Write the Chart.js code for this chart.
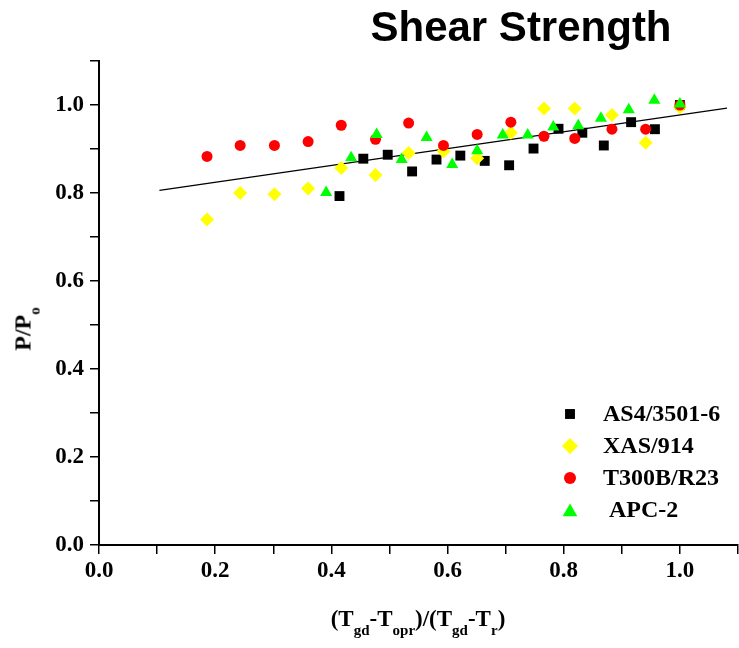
<!DOCTYPE html>
<html>
<head>
<meta charset="utf-8">
<script src="https://cdn.jsdelivr.net/npm/chart.js@4/dist/chart.umd.min.js"></script>
<style>
  html, body { margin: 0; padding: 0; background: #fff; }
  #wrap { position: relative; width: 739px; height: 648px; overflow: hidden; }
  #c { position: absolute; left: 0; top: 0; }
  .t { position: absolute; white-space: nowrap; color: #000; font-weight: bold; }
  #title { left: 521px; top: 6px; transform: translateX(-50%); font-family: "Liberation Sans", Arial, sans-serif; font-size: 42px; line-height: 42px; }
  #xt { left: 418px; top: 607px; transform: translateX(-50%); font-family: "Liberation Serif", "Times New Roman", serif; font-size: 23px; line-height: 23px; }
  #yt { left: 24px; top: 329px; transform: translate(-50%, -50%) rotate(-90deg); font-family: "Liberation Serif", "Times New Roman", serif; font-size: 24px; line-height: 24px; }
  .sb { font-size: 15px; position: relative; top: 9px; }
</style>
</head>
<body>
<div id="wrap">
  <canvas id="c" width="739" height="648"></canvas>
  <div class="t" id="title">Shear Strength</div>
  <div class="t" id="xt">(T<span class="sb">gd</span>-T<span class="sb">opr</span>)/(T<span class="sb">gd</span>-T<span class="sb">r</span>)</div>
  <div class="t" id="yt">P/P<span class="sb">o</span></div>
</div>
<script>
// ---- data ----
const seriesNames = ["AS4/3501-6", "XAS/914", "T300B/R23", " APC-2"];

const as4X = [0.414, 0.455, 0.497, 0.539, 0.581, 0.622, 0.664, 0.706, 0.748, 0.791, 0.832, 0.869, 0.916, 0.957, 1.0];
const as4Y = [0.793, 0.878, 0.887, 0.849, 0.876, 0.885, 0.873, 0.863, 0.901, 0.946, 0.937, 0.908, 0.961, 0.945, 1.0];

const xasX = [0.186, 0.243, 0.302, 0.360, 0.417, 0.476, 0.533, 0.593, 0.651, 0.709, 0.766, 0.819, 0.883, 0.941, 1.0];
const xasY = [0.740, 0.800, 0.797, 0.810, 0.857, 0.841, 0.891, 0.895, 0.879, 0.937, 0.992, 0.992, 0.977, 0.914, 0.995];

const t300X = [0.186, 0.243, 0.302, 0.360, 0.417, 0.476, 0.533, 0.593, 0.651, 0.709, 0.766, 0.819, 0.883, 0.941, 1.0];
const t300Y = [0.883, 0.908, 0.908, 0.917, 0.954, 0.922, 0.959, 0.908, 0.933, 0.961, 0.929, 0.924, 0.945, 0.945, 1.0];

const apcX = [0.391, 0.434, 0.478, 0.521, 0.564, 0.608, 0.651, 0.695, 0.738, 0.782, 0.825, 0.864, 0.912, 0.956, 1.0];
const apcY = [0.801, 0.880, 0.933, 0.876, 0.926, 0.865, 0.896, 0.932, 0.932, 0.950, 0.953, 0.970, 0.989, 1.011, 1.002];

const fitX = [0.104, 1.081];
const fitY = [0.806, 0.993];

const axisMin = 0.0;
const axisMax = 1.1;
const tickStep = 0.1;

// ---- build chart ----
function pts(xs, ys) { return xs.map((x, i) => ({ x: x, y: ys[i] })); }

const markerDefs = [
  { style: 'rect', color: '#000000', radius: 7, order: 4 },
  { style: 'rectRot', color: '#FFFF00', radius: 7, order: 3 },
  { style: 'circle', color: '#FF0000', radius: 5.5, order: 2 },
  { style: 'triangle', color: '#00FF00', radius: 7, order: 1 }
];
const seriesData = [pts(as4X, as4Y), pts(xasX, xasY), pts(t300X, t300Y), pts(apcX, apcY)];

const datasets = seriesData.map((d, i) => ({
  label: seriesNames[i],
  data: d,
  pointStyle: markerDefs[i].style,
  pointRadius: markerDefs[i].radius,
  pointHoverRadius: markerDefs[i].radius,
  backgroundColor: markerDefs[i].color,
  borderColor: markerDefs[i].color,
  borderWidth: 0,
  showLine: false,
  order: markerDefs[i].order
}));
datasets.push({
  label: 'fit',
  data: pts(fitX, fitY),
  showLine: true,
  borderColor: '#000',
  borderWidth: 1.3,
  pointRadius: 0,
  fill: false,
  order: 10
});

function drawMarker(ctx, style, x, y, r, color) {
  ctx.save();
  ctx.fillStyle = color;
  ctx.beginPath();
  if (style === 'rect') {
    const s = r * Math.SQRT1_2;
    ctx.rect(x - s, y - s, 2 * s, 2 * s);
  } else if (style === 'rectRot') {
    ctx.moveTo(x, y - r); ctx.lineTo(x + r, y); ctx.lineTo(x, y + r); ctx.lineTo(x - r, y); ctx.closePath();
  } else if (style === 'circle') {
    ctx.arc(x, y, r, 0, Math.PI * 2);
  } else if (style === 'triangle') {
    ctx.moveTo(x, y - r);
    ctx.lineTo(x + r * Math.sin(Math.PI * 2 / 3), y - r * Math.cos(Math.PI * 2 / 3));
    ctx.lineTo(x + r * Math.sin(Math.PI * 4 / 3), y - r * Math.cos(Math.PI * 4 / 3));
    ctx.closePath();
  }
  ctx.fill();
  ctx.restore();
}

const legendPlugin = {
  id: 'innerLegend',
  afterDraw(chart) {
    const ctx = chart.ctx;
    const rows = [414, 446, 478, 510];
    const legendSizes = [7, 8, 6, 8.5];
    ctx.save();
    ctx.font = 'bold 24px "Liberation Serif", "Times New Roman", serif';
    ctx.textBaseline = 'middle';
    ctx.fillStyle = '#000';
    for (let i = 0; i < 4; i++) {
      drawMarker(ctx, markerDefs[i].style, 570, rows[i] + (markerDefs[i].style === 'triangle' ? 2 : 0), legendSizes[i], markerDefs[i].color);
      ctx.fillText(chart.data.datasets[i].label, 603, rows[i] + 1);
    }
    ctx.restore();
  }
};

function tickLabel(v) {
  const r = Math.round(v * 10);
  return r % 2 === 0 ? (r / 10).toFixed(1) : '';
}

const tickFont = { family: '"Liberation Serif", "Times New Roman", serif', size: 23, weight: 'bold' };

new Chart(document.getElementById('c'), {
  type: 'scatter',
  data: { datasets: datasets },
  options: {
    responsive: false,
    animation: false,
    events: [],
    layout: { autoPadding: false, padding: { top: 61, right: 1, left: 0, bottom: 0 } },
    plugins: { legend: { display: false }, tooltip: { enabled: false }, title: { display: false } },
    scales: {
      x: {
        type: 'linear', min: axisMin, max: axisMax,
        ticks: { stepSize: tickStep, callback: tickLabel, color: '#000', font: tickFont, padding: 3, maxRotation: 0, autoSkip: false },
        grid: { display: true, drawOnChartArea: false, drawTicks: true, tickLength: 9, color: '#000', lineWidth: 1.5 },
        border: { display: true, color: '#000', width: 2 },
        afterFit(s) { s.height = 103; s.paddingLeft = 0; s.paddingRight = 0; }
      },
      y: {
        type: 'linear', min: axisMin, max: axisMax,
        ticks: { stepSize: tickStep, callback: tickLabel, color: '#000', font: tickFont, padding: 6, autoSkip: false },
        grid: { display: true, drawOnChartArea: false, drawTicks: true, tickLength: 9, color: '#000', lineWidth: 1.5 },
        border: { display: true, color: '#000', width: 2 },
        afterFit(s) { s.width = 99; s.paddingTop = 0; s.paddingBottom = 0; }
      }
    }
  },
  plugins: [legendPlugin]
});
</script>
</body>
</html>
